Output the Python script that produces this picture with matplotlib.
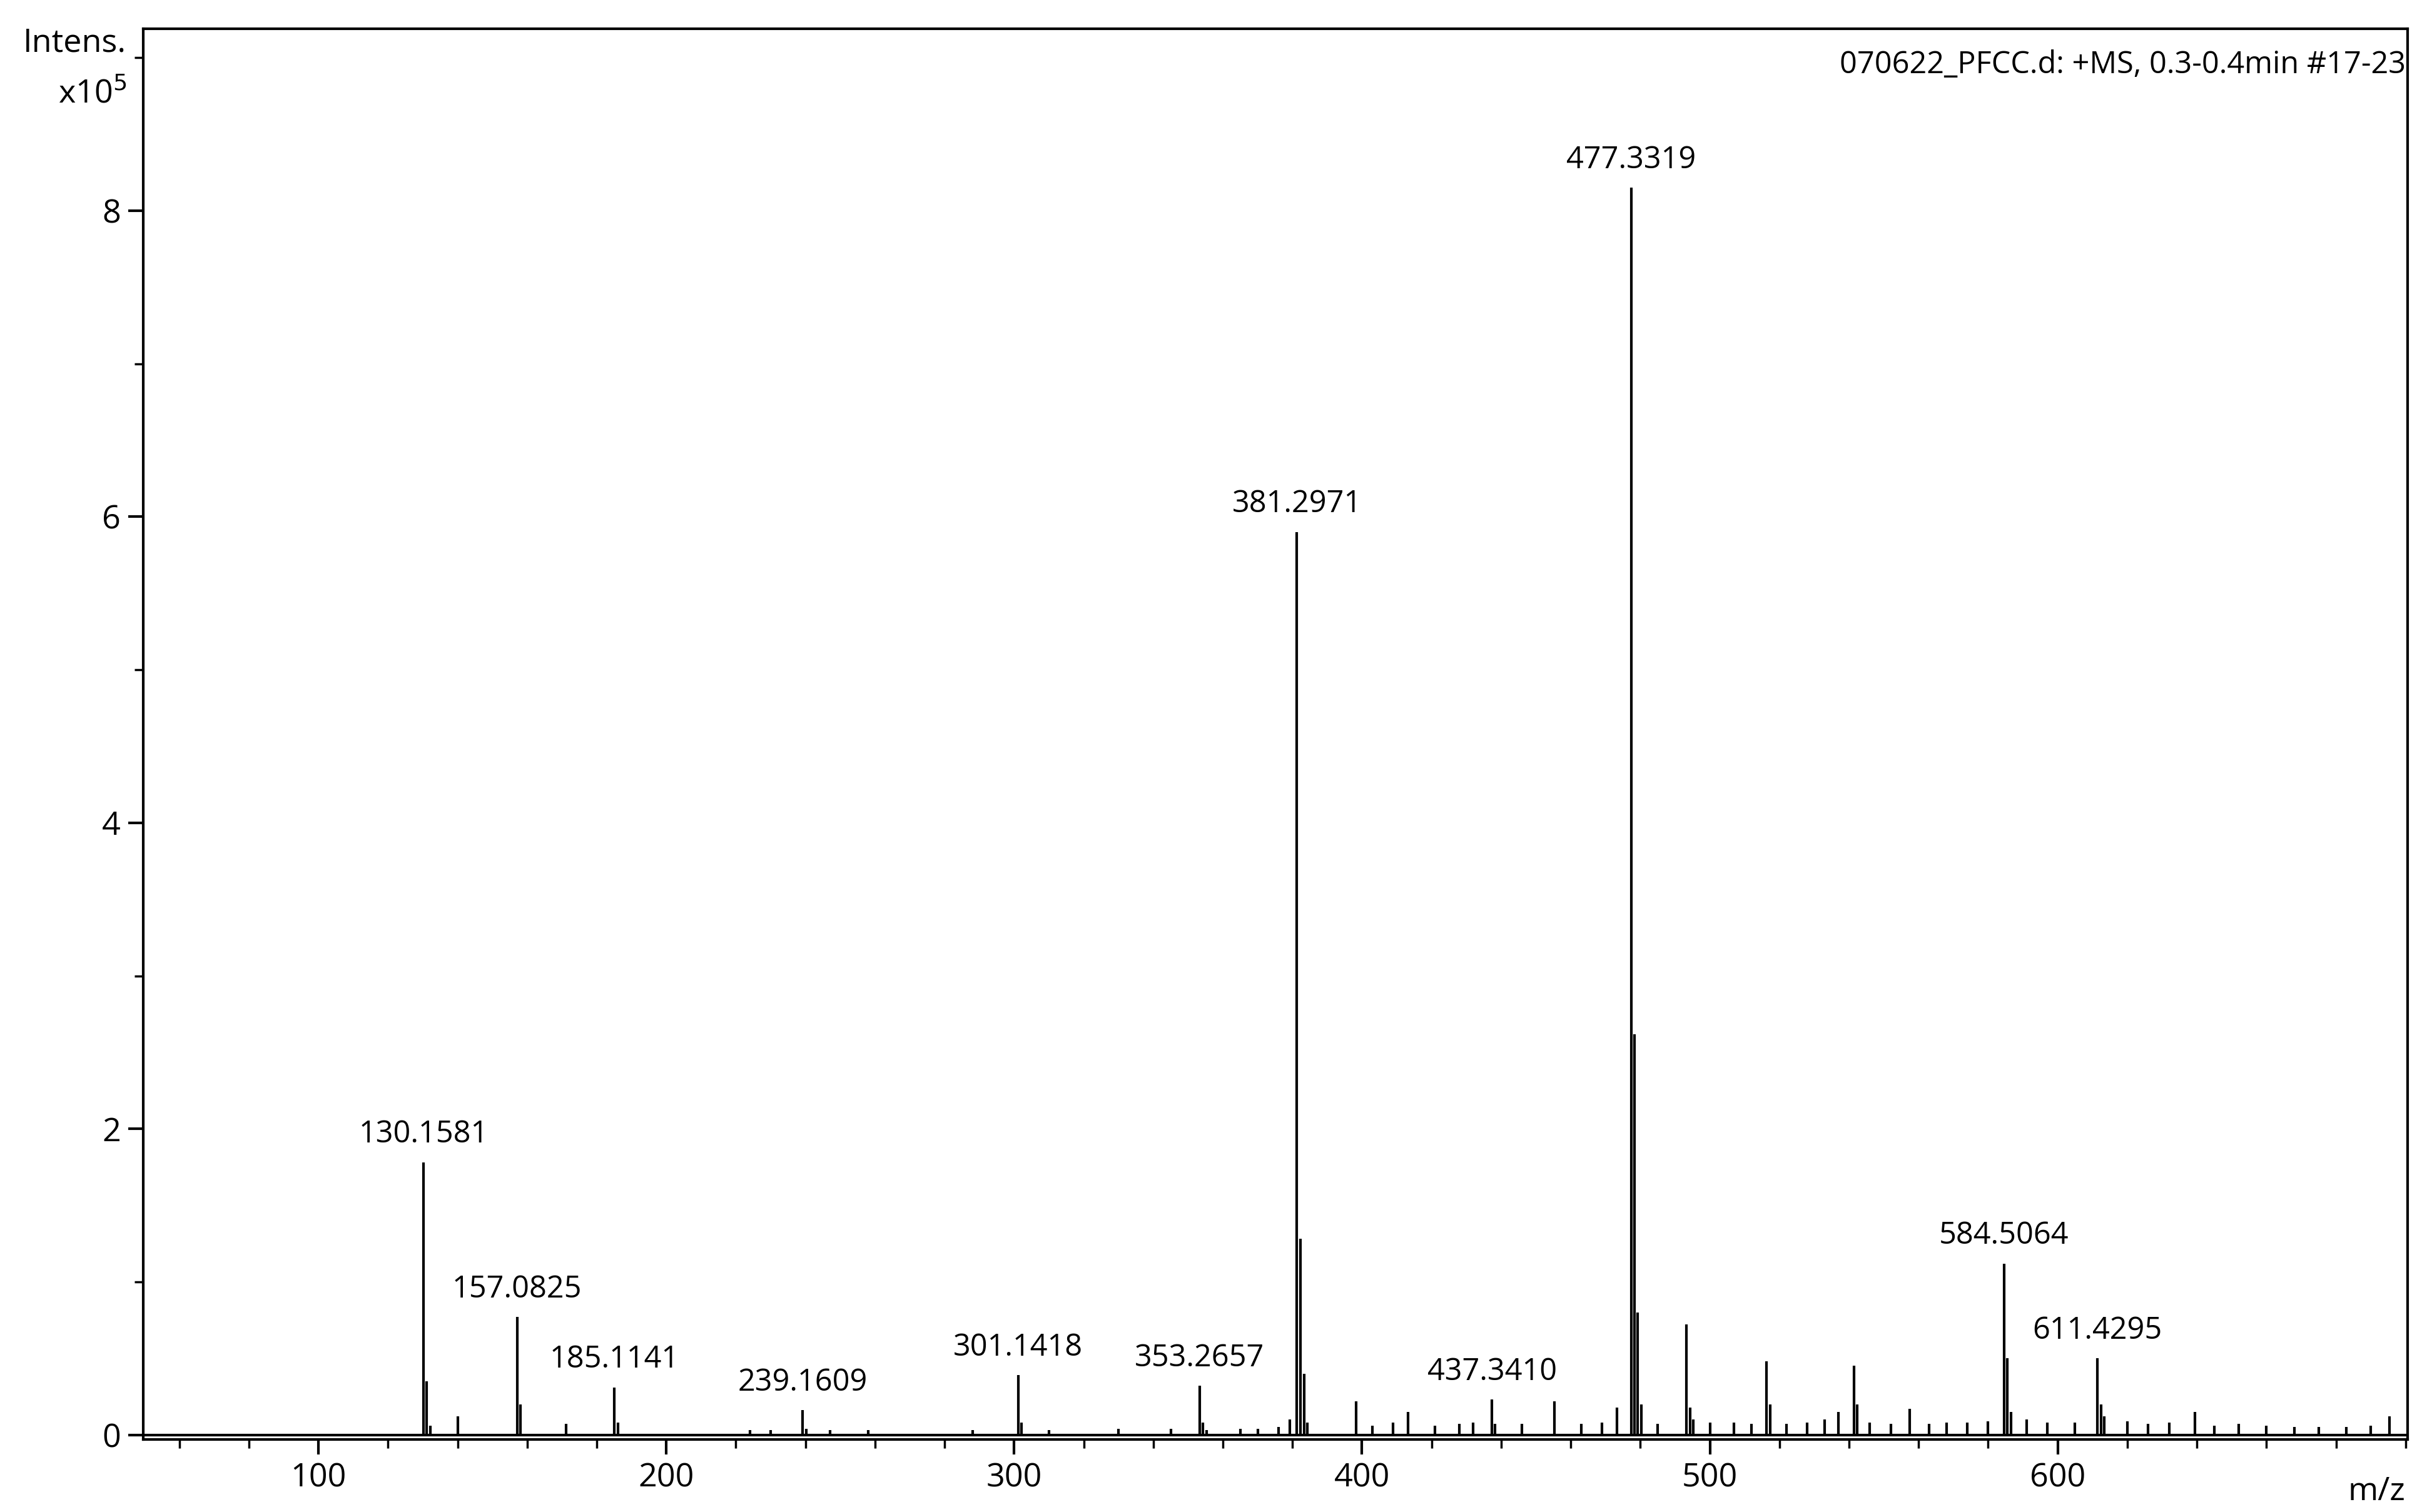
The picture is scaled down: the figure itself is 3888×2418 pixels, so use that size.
import matplotlib
matplotlib.use('Agg')
import matplotlib.pyplot as plt
from matplotlib.ticker import MultipleLocator, FixedLocator

# labelled peaks (m/z, intensity x1e5)
label_mz = [130.1581, 157.0825, 185.1141, 239.1609, 301.1418, 353.2657,
            381.2971, 437.3410, 477.3319, 584.5064, 611.4295]
label_int = [1.78, 0.77, 0.31, 0.16, 0.39, 0.32, 5.90, 0.23, 8.15, 1.12, 0.50]

# unlabelled peaks / isotopes / noise
other_mz = [131.1, 132.1, 140.1, 158.1, 171.1, 186.1, 224, 230, 240.2, 247, 258,
            288, 302.1, 310, 330, 345, 354.3, 355.3, 365, 370, 376, 379.3, 382.3,
            383.3, 384.3, 398.3, 403, 409, 413.3, 421, 428, 432, 438.3, 446, 455.3,
            463, 469, 473.3, 478.33, 479.3, 480.3, 485, 493.3, 494.3, 495.3, 500,
            507, 512, 516.3, 517.3, 522, 528, 533, 537, 541.4, 542.4, 546, 552,
            557.4, 563, 568, 574, 580, 585.5, 586.5, 591, 597, 605, 612.4, 613.4,
            620, 626, 632, 639.4, 645, 652, 660, 668, 675, 683, 690, 695.4]
other_int = [0.35, 0.06, 0.12, 0.20, 0.07, 0.08, 0.03, 0.03, 0.04, 0.03, 0.03,
             0.03, 0.08, 0.03, 0.04, 0.04, 0.08, 0.03, 0.04, 0.04, 0.05, 0.10, 1.28,
             0.40, 0.08, 0.22, 0.06, 0.08, 0.15, 0.06, 0.07, 0.08, 0.07, 0.07, 0.22,
             0.07, 0.08, 0.18, 2.62, 0.80, 0.20, 0.07, 0.72, 0.18, 0.10, 0.08,
             0.08, 0.07, 0.48, 0.20, 0.07, 0.08, 0.10, 0.15, 0.45, 0.20, 0.08, 0.07,
             0.17, 0.07, 0.08, 0.08, 0.09, 0.50, 0.15, 0.10, 0.08, 0.08, 0.20, 0.12,
             0.09, 0.07, 0.08, 0.15, 0.06, 0.07, 0.06, 0.05, 0.05, 0.05, 0.06, 0.12]

xticks = [100, 200, 300, 400, 500, 600]

fig = plt.figure(figsize=(15.552, 9.672), dpi=250)
ax = fig.add_axes([0.059, 0.048, 0.931, 0.933])

ax.vlines(other_mz, 0, other_int, color='black', lw=1.2)
ax.vlines(label_mz, 0, label_int, color='black', lw=1.2)
ax.axhline(0, color='black', lw=1.2)
for m, v in zip(label_mz, label_int):
    ax.text(m, v + 0.08, f"{m:.4f}", ha='center', va='bottom', fontsize=14,
            family='Open Sans')

ax.set_xlim(49.7, 700.6)
ax.set_ylim(-0.03, 9.19)
ax.xaxis.set_major_locator(FixedLocator(xticks))
ax.xaxis.set_minor_locator(MultipleLocator(20))
ax.yaxis.set_major_locator(MultipleLocator(2))
ax.yaxis.set_minor_locator(MultipleLocator(1))
ax.tick_params(labelsize=15, length=7, width=1.2)
ax.tick_params(which='minor', length=4, width=1)
for lab in ax.get_xticklabels() + ax.get_yticklabels():
    lab.set_family('Open Sans')
for s in ax.spines.values():
    s.set_linewidth(1.2)

ax.text(0.999, 0.985, "070622_PFCC.d: +MS, 0.3-0.4min #17-23", transform=ax.transAxes,
        ha='right', va='top', fontsize=14, family='Open Sans')
fig.text(0.052, 0.982, "Intens.", ha='right', va='top', fontsize=15, family='Open Sans')
fig.text(0.052, 0.948, r"x10$^5$", ha='right', va='top', fontsize=15, family='Open Sans')
fig.text(0.989, 0.003, "m/z", ha='right', va='bottom', fontsize=15, family='Open Sans')

fig.savefig('out.png', dpi=250)
